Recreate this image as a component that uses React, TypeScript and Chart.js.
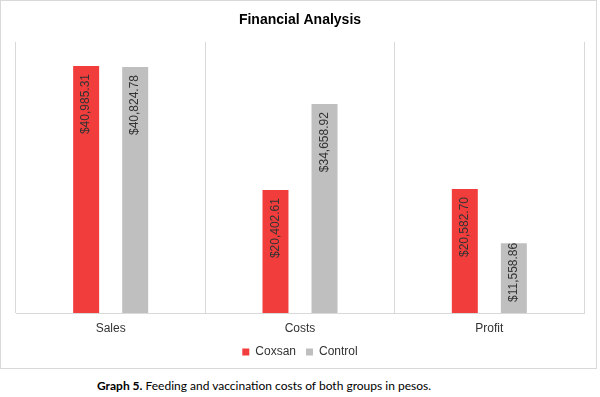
import React, { useEffect, useRef } from "react";
import { Chart, registerables } from "chart.js";

Chart.register(...registerables);

const categories = ["Sales", "Costs", "Profit"];
const coxsanValues = [40985.31, 20402.61, 20582.7];
const controlValues = [40824.78, 34658.92, 11558.86];
const seriesNames = ["Coxsan", "Control"];
const yMax = 45000;

const fmt = (v: number) =>
  "$" + v.toLocaleString("en-US", { minimumFractionDigits: 2, maximumFractionDigits: 2 });

const labelPlugin = {
  id: "barLabels",
  afterDatasetsDraw(chart: any) {
    const ctx = chart.ctx;
    ctx.save();
    ctx.font = "12px 'Liberation Sans', Arial, sans-serif";
    ctx.fillStyle = "#333333";
    ctx.textBaseline = "middle";
    ctx.textAlign = "right";
    chart.data.datasets.forEach((ds: any, di: number) => {
      const meta = chart.getDatasetMeta(di);
      meta.data.forEach((bar: any, i: number) => {
        const text = fmt(ds.data[i]);
        const len = ctx.measureText(text).width;
        const top = bar.y;
        const base = bar.base;
        const textTop = Math.max(top - 2, Math.min(top + 8, base - len - 11));
        ctx.save();
        ctx.translate(bar.x, textTop);
        ctx.rotate(-Math.PI / 2);
        ctx.fillText(text, 0, 0);
        ctx.restore();
      });
    });
    ctx.restore();
  },
};

export default function App() {
  const ref = useRef<HTMLCanvasElement>(null);
  useEffect(() => {
    if (!ref.current) return;
    const chart = new Chart(ref.current, {
      type: "bar",
      data: {
        labels: categories,
        datasets: [
          {
            label: seriesNames[0],
            data: coxsanValues,
            backgroundColor: "#F23D3D",
            categoryPercentage: 0.518,
            barPercentage: 0.53,
          },
          {
            label: seriesNames[1],
            data: controlValues,
            backgroundColor: "#BFBFBF",
            categoryPercentage: 0.518,
            barPercentage: 0.53,
          },
        ],
      },
      options: {
        animation: false,
        responsive: false,
        maintainAspectRatio: false,
        layout: { padding: { left: 16, right: 13, top: 0, bottom: 1 } },
        plugins: {
          title: {
            display: true,
            text: "Financial Analysis",
            color: "#000000",
            font: { family: "'Liberation Sans', Arial, sans-serif", size: 14, weight: "bold" },
            padding: { top: 12, bottom: 13 },
          },
          legend: {
            display: true,
            position: "bottom",
            labels: {
              boxWidth: 7,
              boxHeight: 7,
              padding: 10,
              color: "#333333",
              font: { family: "'Liberation Sans', Arial, sans-serif", size: 12 },
            },
          },
          tooltip: { enabled: false },
        },
        scales: {
          x: {
            offset: true,
            grid: { display: true, offset: true, color: "#D9D9D9", drawTicks: false },
            border: { display: true, color: "#D9D9D9" },
            ticks: {
              padding: 8,
              color: "#333333",
              font: { family: "'Liberation Sans', Arial, sans-serif", size: 12 },
            },
            afterFit: (scale: any) => {
              scale.height = 23;
            },
          },
          y: {
            display: false,
            min: 0,
            max: yMax,
          },
        },
      },
      plugins: [labelPlugin],
    });
    return () => chart.destroy();
  }, []);

  return (
    <div style={{ position: "absolute", left: 0, top: 0, width: 600, height: 397, background: "#fff" }}>
      <div
        style={{
          position: "absolute",
          left: 0,
          top: 0,
          width: 597,
          height: 369,
          border: "1px solid #D9D9D9",
          boxSizing: "border-box",
        }}
      />
      <canvas ref={ref} width={597} height={369} style={{ position: "absolute", left: 0, top: 0 }} />
      <div
        style={{
          position: "absolute",
          left: 97,
          top: 378,
          fontFamily: "Lato, 'Open Sans', sans-serif",
          fontSize: 12,
          color: "#000",
          whiteSpace: "nowrap",
        }}
      >
        <b>Graph 5.</b> Feeding and vaccination costs of both groups in pesos.
      </div>
    </div>
  );
}
